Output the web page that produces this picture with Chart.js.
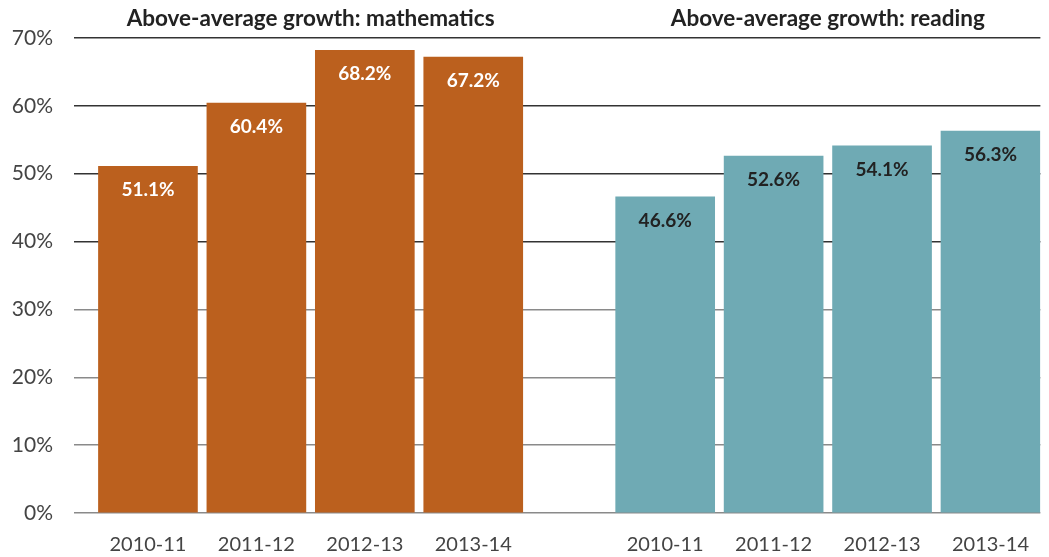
<!DOCTYPE html>
<html>
<head>
<meta charset="utf-8">
<title>Above-average growth</title>
<script src="https://cdn.jsdelivr.net/npm/chart.js@4.4.1/dist/chart.umd.min.js"></script>
<style>
  html, body { margin: 0; padding: 0; background: #fff; }
  #wrap { width: 1049px; height: 557px; }
</style>
</head>
<body>
<div id="wrap"><canvas id="growth" width="1049" height="557"></canvas></div>
<script>
// school years and share of students with above-average growth (%)
const years = ['2010-11', '2011-12', '2012-13', '2013-14'];
const mathValues = [51.1, 60.4, 68.2, 67.2];
const readingValues = [46.6, 52.6, 54.1, 56.3];
const yTicks = [0, 10, 20, 30, 40, 50, 60, 70];
const groupTitles = ['Above-average growth: mathematics', 'Above-average growth: reading'];

// the reading block sits a bit further right than the next bar slot
const groupOffset = 4.77;
const mathX = years.map((_, i) => i);
const readingX = years.map((_, i) => i + groupOffset);
const allX = mathX.concat(readingX);
const allLabels = years.concat(years);

const FONT = 'Lato, "Open Sans", sans-serif';
const MATH_COLOR = '#bb601e';
const READING_COLOR = '#6faab4';

// group headings above each block of bars
const groupTitlePlugin = {
  id: 'groupTitles',
  afterDraw(chart) {
    const ctx = chart.ctx;
    const x = chart.scales.x;
    const centers = [mathX, readingX].map(xs => (xs[0] + xs[xs.length - 1]) / 2);
    ctx.save();
    ctx.font = 'bold 22.5px ' + FONT;
    ctx.fillStyle = '#222';
    ctx.textAlign = 'center';
    ctx.textBaseline = 'middle';
    groupTitles.forEach((t, i) => ctx.fillText(t, x.getPixelForValue(centers[i]), 19));
    ctx.restore();
  }
};

// percentage printed just inside the top of each bar
const valueLabelPlugin = {
  id: 'valueLabels',
  afterDatasetsDraw(chart) {
    const ctx = chart.ctx;
    ctx.save();
    ctx.font = 'bold 19px ' + FONT;
    ctx.textAlign = 'center';
    ctx.textBaseline = 'middle';
    chart.data.datasets.forEach((ds, di) => {
      ctx.fillStyle = ds.labelColor;
      chart.getDatasetMeta(di).data.forEach((bar, i) => {
        ctx.fillText(ds.data[i].y.toFixed(1) + '%', bar.x, bar.y + 24);
      });
    });
    ctx.restore();
  }
};

new Chart(document.getElementById('growth'), {
  type: 'bar',
  data: {
    datasets: [{
      label: 'Mathematics',
      data: mathValues.map((v, i) => ({ x: mathX[i], y: v })),
      backgroundColor: MATH_COLOR,
      labelColor: '#fff',
      barThickness: 99,
      grouped: false
    }, {
      label: 'Reading',
      data: readingValues.map((v, i) => ({ x: readingX[i], y: v })),
      backgroundColor: READING_COLOR,
      labelColor: '#222',
      barThickness: 99,
      grouped: false
    }]
  },
  options: {
    responsive: false,
    animation: false,
    layout: { padding: { top: 38, right: 0, left: 0, bottom: 0 } },
    plugins: {
      legend: { display: false },
      tooltip: { enabled: false }
    },
    scales: {
      x: {
        type: 'linear',
        offset: false,
        min: -0.682,
        max: 8.23,
        grid: { display: false, drawTicks: false },
        border: { display: false },
        afterBuildTicks: scale => { scale.ticks = allX.map(v => ({ value: v })); },
        afterFit: scale => { scale.height = 44; },
        ticks: {
          padding: 20,
          autoSkip: false,
          maxRotation: 0,
          color: '#444',
          font: { family: FONT, size: 20 },
          callback: (v) => allLabels[allX.indexOf(v)]
        }
      },
      y: {
        min: 0,
        max: 70,
        afterBuildTicks: scale => { scale.ticks = yTicks.map(v => ({ value: v })); },
        afterFit: scale => { scale.width = 74; },
        grid: {
          drawTicks: false,
          lineWidth: 1.5,
          color: c => (c.tick && c.tick.value >= 40 ? '#333' : '#8a8a8a')
        },
        border: { display: false },
        ticks: {
          padding: 21,
          color: '#444',
          font: { family: FONT, size: 21 },
          callback: v => v + '%'
        }
      }
    }
  },
  plugins: [groupTitlePlugin, valueLabelPlugin]
});
</script>
</body>
</html>
